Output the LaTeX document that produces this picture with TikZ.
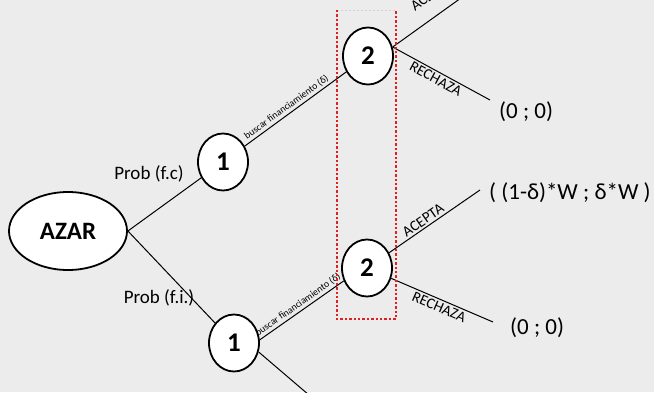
\documentclass[tikz,border=0pt]{standalone}
\usepackage{fontspec}
\setmainfont{Carlito}
\usetikzlibrary{shapes.geometric}
\definecolor{paper}{RGB}{236,236,236}
\definecolor{dotred}{RGB}{222,32,32}
\pgfdeclarelayer{paperlayer}
\pgfdeclarelayer{bg}
\pgfsetlayers{paperlayer,bg,main}
\tikzset{
  chance/.style={ellipse, draw, line width=1.8pt, fill=white, minimum width=118pt,
    minimum height=78pt, inner sep=0pt, font=\bfseries\fontsize{25}{25}\selectfont},
  decision/.style={ellipse, draw, line width=1.8pt, fill=white, minimum width=50pt,
    minimum height=57pt, inner sep=0pt, font=\bfseries\fontsize{27}{27}\selectfont},
  branch/.style={line width=1pt},
  smalllabel/.style={font=\fontsize{9.8}{10}\selectfont, sloped, inner sep=2pt},
  movelabel/.style={font=\fontsize{15}{15}\selectfont, sloped, inner sep=2pt},
  payoff/.style={font=\fontsize{23}{23}\selectfont, inner sep=0pt, anchor=west},
  problabel/.style={font=\fontsize{19}{19}\selectfont, inner sep=0pt},
  group/.style={draw=dotred, line width=2.4pt, dash pattern=on 2.4pt off 2pt},
  groupfaint/.style={draw=gray!35, line width=1pt, dash pattern=on 2pt off 2pt}
}
\begin{document}
\begin{tikzpicture}[x=1pt,y=-1pt]
  \useasboundingbox (0,0) rectangle (654,392);
  \begin{pgfonlayer}{paperlayer}
    \fill[paper] (0,0) rectangle (654,392);
  \end{pgfonlayer}

  % nodes of the game tree
  \node[chance]   (azar) at (68,231)  {AZAR};
  \node[decision] (u1)   at (223,162) {1};
  \node[decision] (l1)   at (234,343) {1};
  \node[decision] (u2)   at (368,56)  {2};
  \node[decision] (l2)   at (367,268) {2};

  % free ends of the branches
  \coordinate (uacc)  at (500,-30);
  \coordinate (urej)  at (490,100);
  \coordinate (lacc)  at (480,190);
  \coordinate (lrej)  at (493,322);
  \coordinate (ldown) at (330,413);

  % payoffs and probabilities
  \node[payoff] (pay1) at (499,112) {(0 ; 0)};
  \node[payoff] (pay2) at (489,193) {( (1-δ)*W ; δ*W )};
  \node[payoff] (pay3) at (510,328) {(0 ; 0)};
  \node[problabel] (pfc) at (149,174) {Prob (f.c)};
  \node[problabel] (pfi) at (159,298) {Prob (f.i.)};

  \begin{pgfonlayer}{bg}
    \draw[branch] (azar.east) -- (u1);
    \draw[branch] (azar.east) -- (l1);
    \draw[branch] (u1) -- node[smalllabel, pos=0.45, above] {buscar financiamiento (δ)} (u2);
    \draw[branch] (l1.7) -- node[smalllabel, pos=0.5, above] {buscar financiamiento (δ)} (l2.209);
    \draw[branch] (u2.20) -- node[movelabel, pos=0.47, above=13pt] {ACEPTA} (uacc);
    \draw[branch] (u2.20) -- node[movelabel, pos=0.48, below] {RECHAZA} (urej);
    \draw[branch] (l2) -- node[movelabel, pos=0.42, above] {ACEPTA} (lacc);
    \draw[branch] (l2) -- node[movelabel, pos=0.5, below] {RECHAZA} (lrej);
    \draw[branch] (l1.-20) -- (ldown);
  \end{pgfonlayer}

  % information set of player 2
  \coordinate (gtl) at (337,10);
  \coordinate (gtr) at (396,10);
  \coordinate (gbl) at (337,319);
  \coordinate (gbr) at (396,319);
  \draw[groupfaint] (gtl) -- (gtr);
  \draw[group] (gtl) -- (gbl) -- (gbr) -- (gtr);
\end{tikzpicture}
\end{document}
